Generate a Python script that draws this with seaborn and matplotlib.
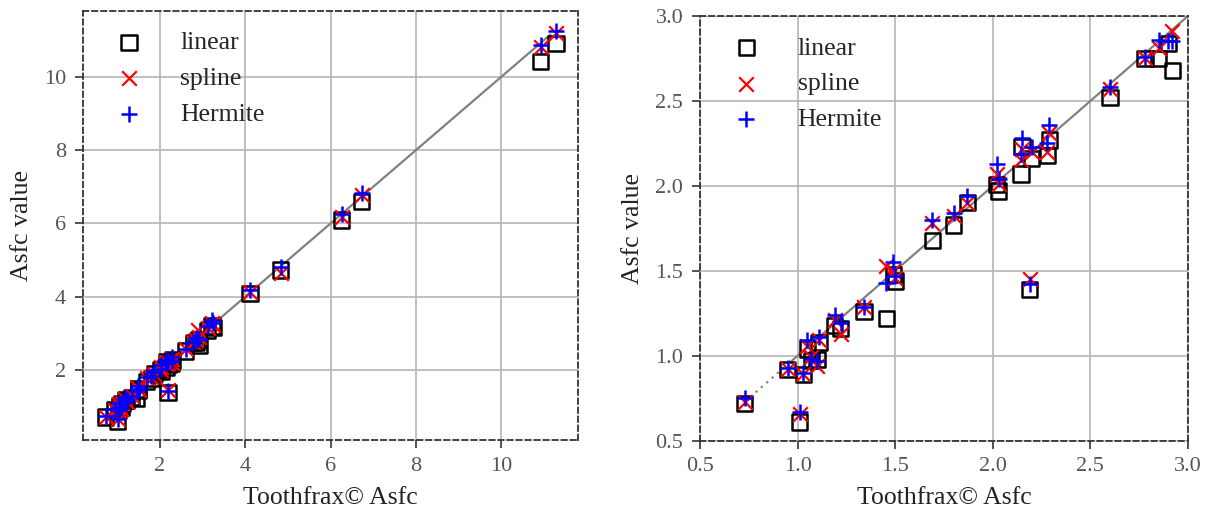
import matplotlib
matplotlib.use("Agg")
import matplotlib.pyplot as plt
import seaborn as sns
import pandas as pd

# ---- data ----
toothfrax = [0.73, 0.95, 1.01, 1.03, 1.05, 1.07, 1.10, 1.11, 1.19, 1.22,
             1.34, 1.455, 1.50, 1.49, 1.69, 1.80, 1.87, 2.02, 2.03, 2.145,
             2.15, 2.19, 2.20, 2.28, 2.29, 2.60, 2.78, 2.85, 2.90, 2.92,
             3.12, 3.22, 3.25, 4.11, 4.83, 6.26, 6.73, 10.92, 11.28]
linear = [0.72, 0.92, 0.61, 0.89, 1.04, 0.97, 0.98, 1.08, 1.18, 1.16,
          1.26, 1.22, 1.44, 1.48, 1.68, 1.77, 1.90, 2.01, 1.97, 2.07,
          2.23, 1.39, 2.16, 2.18, 2.27, 2.52, 2.75, 2.75, 2.84, 2.68,
          3.08, 3.20, 3.15, 4.09, 4.73, 6.09, 6.59, 10.41, 10.91]
spline = [0.73, 0.92, 0.66, 0.89, 1.06, 0.99, 0.94, 1.09, 1.21, 1.13,
          1.29, 1.53, 1.46, 1.50, 1.78, 1.82, 1.90, 2.07, 2.01, 2.15,
          2.22, 1.45, 2.20, 2.20, 2.31, 2.57, 2.75, 2.81, 3.08, 2.91,
          3.15, 3.28, 3.22, 4.14, 4.64, 6.18, 6.78, 10.82, 11.18]
hermite = [0.75, 0.93, 0.67, 0.90, 1.09, 0.98, 0.97, 1.11, 1.24, 1.19,
           1.29, 1.43, 1.47, 1.55, 1.80, 1.84, 1.94, 2.13, 2.04, 2.19,
           2.28, 1.42, 2.23, 2.25, 2.36, 2.58, 2.76, 2.86, 2.85, 2.85,
           3.20, 3.35, 3.28, 4.18, 4.82, 6.25, 6.82, 10.86, 11.25]
series_labels = ["linear", "spline", "Hermite"]

left_xticks = [2, 4, 6, 8, 10]
left_yticks = [2, 4, 6, 8, 10]
left_lim_x = (0.19, 11.8)
left_lim_y = (0.09, 11.8)
right_ticks = [0.5, 1.0, 1.5, 2.0, 2.5, 3.0]
right_lim = (0.5, 3.0)

# identity reference line: dotted part then solid part
ref_dotted = [0.73, 0.95]
ref_solid = [0.95, 11.15]

df = pd.DataFrame({"toothfrax": toothfrax, "linear": linear,
                   "spline": spline, "Hermite": hermite})

sns.set_style("whitegrid")
plt.rcParams["font.family"] = ["Liberation Serif", "DejaVu Serif"]
plt.rcParams["axes.unicode_minus"] = False

fig = plt.figure(figsize=(12.1, 5.13), dpi=100)
ax1 = fig.add_axes([0.0683, 0.1423, 0.4096, 0.8368])
ax2 = fig.add_axes([0.5785, 0.1409, 0.4033, 0.8279])

styles = {
    "linear": dict(marker="s", s=120, facecolor="none", edgecolor="black",
                   color="black", linewidth=1.8),
    "spline": dict(marker="x", s=110, color="#ff0000", linewidth=1.6),
    "Hermite": dict(marker="+", s=130, color="#0000ff", linewidth=1.8),
}

for ax in (ax1, ax2):
    ax.plot(ref_dotted, ref_dotted, color="#808080", lw=1.6, ls=(0, (1, 2.2)), zorder=1)
    ax.plot(ref_solid, ref_solid, color="#808080", lw=1.6, zorder=1)
    for name in series_labels:
        sns.scatterplot(data=df, x="toothfrax", y=name, ax=ax, label=name,
                        zorder=3, **styles[name])
    ax.grid(True, color="#b5b5b5", lw=1.2, zorder=0)
    ax.set_axisbelow(True)
    for sp in ax.spines.values():
        sp.set_visible(True)
        sp.set_linestyle((0, (3, 2)))
        sp.set_color("#333333")
        sp.set_linewidth(1.3)
    ax.tick_params(direction="out", length=6, width=1.2, color="#333333",
                   labelcolor="#555555", labelsize=16, pad=6,
                   bottom=True, left=True)
    ax.set_xlabel("Toothfrax© Asfc", fontsize=18.5, color="#222222", labelpad=8)
    ax.set_ylabel("Asfc value", fontsize=18.5, color="#222222", labelpad=8)
    ax.legend(loc="upper left", frameon=False, fontsize=18.5,
              handletextpad=1.0, labelspacing=0.5, borderaxespad=0.4)

ax1.set_xlim(*left_lim_x)
ax1.set_ylim(*left_lim_y)
ax1.set_xticks(left_xticks)
ax1.set_yticks(left_yticks)

ax2.set_xlim(*right_lim)
ax2.set_ylim(*right_lim)
ax2.set_xticks(right_ticks)
ax2.set_yticks(right_ticks)
ax2.set_xticklabels([f"{t:.1f}" for t in right_ticks])
ax2.set_yticklabels([f"{t:.1f}" for t in right_ticks])

fig.savefig("out.png", dpi=100)
